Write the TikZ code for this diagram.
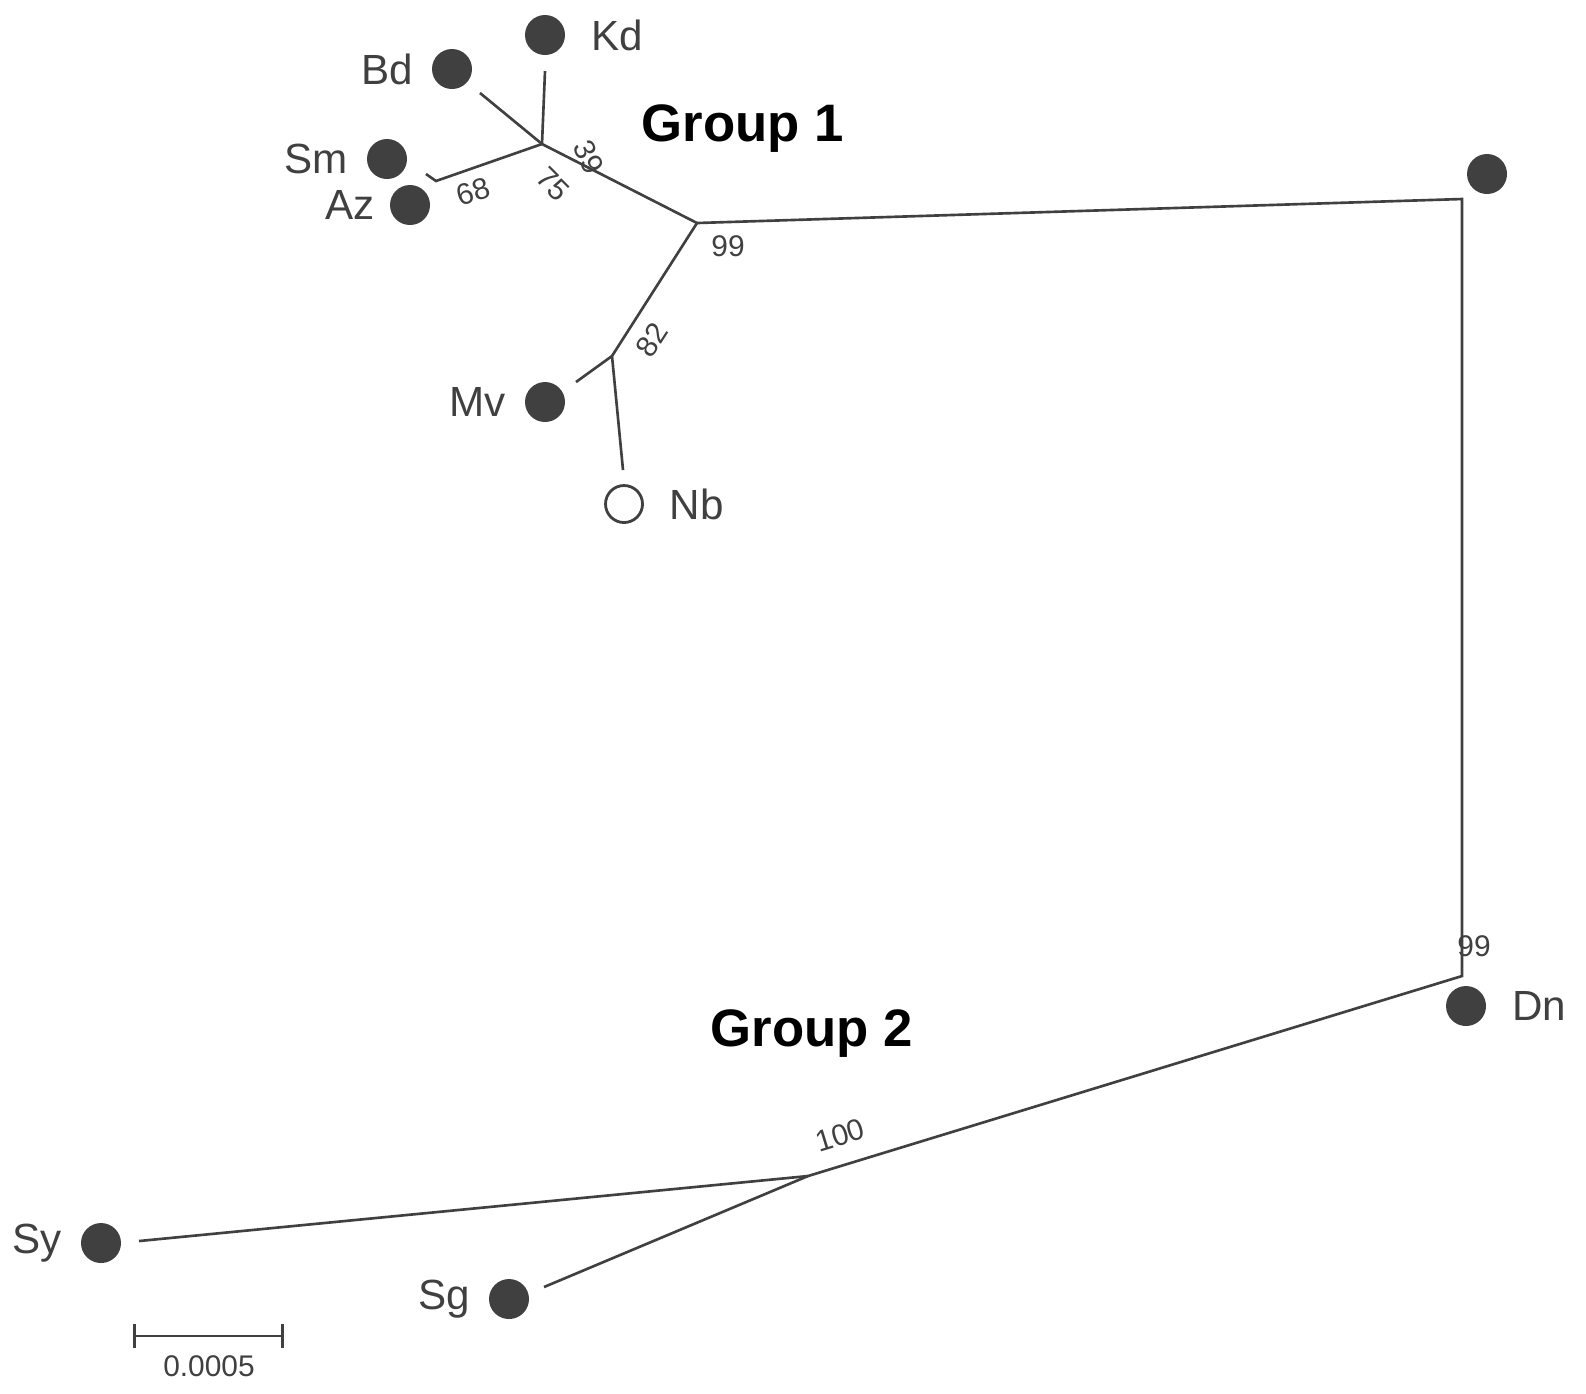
\documentclass[tikz,border=0pt]{standalone}
\usepackage{fontspec}
\setmainfont{Liberation Sans}
\usepackage{tikz}
\usetikzlibrary{arrows.meta, positioning}
\usepackage{xcolor}
\definecolor{meucinza}{RGB}{64, 64, 64}

\begin{document}
\begin{tikzpicture}[
    ponto/.style={
        circle,
        fill=meucinza,
        inner sep=0pt,
        minimum size=0.40cm
    },
    vazio/.style={
        circle,
        draw=meucinza,
        line width=0.8pt,
        inner sep=0pt,
        minimum size=0.37cm
    },
    rotulo/.style={
        text=meucinza,
        inner sep=0pt,
        font=\fontsize{12}{14}\selectfont
    },
    suporte/.style={
        text=meucinza,
        inner sep=0pt,
        font=\fontsize{8.5}{10}\selectfont
    },
    grupo/.style={
        text=black,
        font=\fontsize{15}{18}\selectfont\bfseries
    },
    ramo/.style={
        draw=meucinza,
        line width=0.75pt
    },
    node distance=0.18cm
]

\useasboundingbox (0,0) rectangle (15.86,-13.93);

% ---------------- Group 1 ----------------

\node[ponto] (kd) at (5.45,-0.35) {};
\node[rotulo, right=0.25cm of kd] (kd-txt) {Kd};

\node[ponto] (bd) at (4.52,-0.69) {};
\node[rotulo, left=of bd] (bd-txt) {Bd};

\node[ponto] (sm) at (3.87,-1.59) {};
\node[rotulo, left=of sm] (sm-txt) {Sm};

\node[ponto] (az) at (4.10,-2.05) {};
\node[rotulo, left=0.14cm of az] (az-txt) {Az};

\node[ponto] (mv) at (5.45,-4.02) {};
\node[rotulo, left=of mv] (mv-txt) {Mv};

\node[vazio] (nb) at (6.24,-5.04) {};
\node[rotulo, right=0.25cm of nb] (nb-txt) {Nb};

\node[grupo] (g1) at (7.43,-1.29) {Group 1};

\coordinate (n1) at (5.42,-1.44);
\coordinate (n2) at (4.36,-1.81);
\coordinate (n3) at (6.97,-2.23);
\coordinate (n4) at (6.12,-3.56);
\coordinate (kd-ponta) at (5.45,-0.71);
\coordinate (bd-ponta) at (4.80,-0.93);
\coordinate (sm-ponta) at (4.26,-1.74);
\coordinate (mv-ponta) at (5.76,-3.82);
\coordinate (nb-ponta) at (6.23,-4.70);

\draw[ramo] (kd-ponta) -- (n1);
\draw[ramo] (bd-ponta) -- (n1);
\draw[ramo] (sm-ponta) -- (n2) -- (n1);
\draw[ramo] (n1) -- (n3);
\draw[ramo] (n3) -- (n4);
\draw[ramo] (mv-ponta) -- (n4) -- (nb-ponta);

\node[suporte, rotate=18] (s68) at (4.73,-1.92) {68};
\node[suporte, rotate=-65] (s39) at (5.89,-1.57) {39};
\node[suporte, rotate=-45] (s75) at (5.53,-1.84) {75};
\node[suporte] (s99a) at (7.28,-2.46) {99};
\node[suporte, rotate=57] (s82) at (6.52,-3.40) {82};

% ---------------- Group 2 ----------------

\node[ponto] (topo) at (14.87,-1.74) {};

\node[ponto] (dn) at (14.66,-10.06) {};
\node[rotulo, right=0.25cm of dn] (dn-txt) {Dn};

\node[ponto] (sy) at (1.01,-12.43) {};
\node[rotulo, left=of sy] (sy-txt) {Sy};

\node[ponto] (sg) at (5.09,-12.99) {};
\node[rotulo, left=of sg] (sg-txt) {Sg};

\node[grupo] (g2) at (8.12,-10.34) {Group 2};

\coordinate (c1) at (14.62,-1.99);
\coordinate (n5) at (14.62,-9.76);
\coordinate (n6) at (8.08,-11.76);
\coordinate (sy-ponta) at (1.39,-12.41);
\coordinate (sg-ponta) at (5.44,-12.87);

\draw[ramo] (n3) -- (c1) -- (n5) -- (n6);
\draw[ramo] (sy-ponta) -- (n6);
\draw[ramo] (sg-ponta) -- (n6);

\node[suporte] (s99b) at (14.74,-9.46) {99};
\node[suporte, rotate=17] (s100) at (8.40,-11.35) {100};

% ---------------- escala ----------------

\coordinate (esc-a) at (1.33,-13.36);
\coordinate (esc-b) at (2.84,-13.36);
\draw[
    ramo,
    {Bar[width=0.24cm]}-{Bar[width=0.24cm]}
] (esc-a) -- (esc-b);
\node[suporte] (esc-txt) at (2.09,-13.66) {0.0005};

\end{tikzpicture}
\end{document}
